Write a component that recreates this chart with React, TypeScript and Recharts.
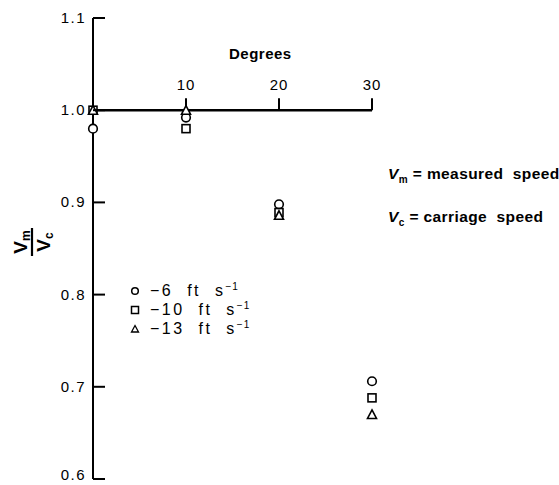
import { ScatterChart, Scatter, XAxis, YAxis, ReferenceLine } from "recharts";

// angle in degrees
const ANGLES = [0, 10, 20, 30];

// Vm / Vc, one list per carriage speed
const RATIO_6 = [0.98, 0.992, 0.898, 0.706];
const RATIO_10 = [1.0, 0.98, 0.889, 0.688];
const RATIO_13 = [1.0, 1.0, 0.886, 0.67];

const SPEEDS = ["6", "10", "13"];
const SHAPES = ["circle", "square", "triangle"];

const Y_TICKS = [0.6, 0.7, 0.8, 0.9, 1.0, 1.1];
const X_TICKS = [10, 20, 30];

const FONT = "'Liberation Sans', Arial, sans-serif";

const toPoints = (vals: number[]) => ANGLES.map((x, i) => ({ x, y: vals[i] }));

function Marker({ cx, cy, kind }: any) {
  if (cx == null || cy == null) return null;
  const common = { fill: "#fff", stroke: "#000", strokeWidth: 1.6 };
  if (kind === "circle") return <circle cx={cx} cy={cy} r={4.3} {...common} />;
  if (kind === "square")
    return <rect x={cx - 4} y={cy - 4} width={8} height={8} {...common} />;
  return (
    <path
      d={`M${cx},${cy - 4.5} L${cx + 4.5},${cy + 4} L${cx - 4.5},${cy + 4} Z`}
      {...common}
    />
  );
}

function XTick({ cx, cy, payload }: any) {
  return (
    <g>
      <line x1={cx} x2={cx} y1={cy} y2={cy - 12} stroke="#000" strokeWidth={2} />
      <text
        x={cx}
        y={cy - 20}
        textAnchor="middle"
        fontFamily={FONT}
        fontSize={15}
        letterSpacing={1}
      >
        {payload.x}
      </text>
    </g>
  );
}

function YTick({ x, y, payload }: any) {
  // lowest label sits on the page edge, lift it a little so it stays whole
  const dy = payload.value === Y_TICKS[0] ? 1 : 5;
  return (
    <g>
      <line x1={x} x2={x + 12} y1={y} y2={y} stroke="#000" strokeWidth={2} />
      <text
        x={x - 7}
        y={y}
        dy={dy}
        textAnchor="end"
        fontFamily={FONT}
        fontSize={15}
        letterSpacing={1.5}
      >
        {Number(payload.value).toFixed(1)}
      </text>
    </g>
  );
}

function YLabel() {
  const cx = 32;
  const cy = 242;
  return (
    <g transform={`rotate(-90, ${cx}, ${cy})`} fontFamily={FONT} fontWeight="bold">
      <text x={cx} y={cy - 5} textAnchor="middle" fontSize={19}>
        V<tspan fontSize={12} dy={3}>m</tspan>
      </text>
      <line x1={cx - 14} x2={cx + 14} y1={cy} y2={cy} stroke="#000" strokeWidth={2.2} />
      <text x={cx} y={cy + 18} textAnchor="middle" fontSize={19}>
        V<tspan fontSize={12} dy={3}>c</tspan>
      </text>
    </g>
  );
}

function LegendBox() {
  return (
    <div style={{ fontFamily: FONT, fontSize: 16 }}>
      {SPEEDS.map((s, i) => (
        <div
          key={s}
          style={{ display: "flex", alignItems: "center", whiteSpace: "pre", height: 19 }}
        >
          <svg width={12} height={12} style={{ marginRight: 9 }}>
            {SHAPES[i] === "circle" && (
              <circle cx={6} cy={6} r={3.3} fill="#fff" stroke="#000" strokeWidth={1.5} />
            )}
            {SHAPES[i] === "square" && (
              <rect x={2.5} y={2.5} width={7} height={7} fill="#fff" stroke="#000" strokeWidth={1.5} />
            )}
            {SHAPES[i] === "triangle" && (
              <path d="M6,2.5 L9.5,9 L2.5,9 Z" fill="#fff" stroke="#000" strokeWidth={1.3} />
            )}
          </svg>
          <span style={{ letterSpacing: 2.5, lineHeight: "19px" }}>
            {"−" + s + "  ft  s"}
            <span style={{ fontSize: 10, letterSpacing: 1, verticalAlign: "6px", lineHeight: 0 }}>
              −1
            </span>
          </span>
        </div>
      ))}
    </div>
  );
}

export default function App() {
  const series = [RATIO_6, RATIO_10, RATIO_13];
  return (
    <div
      style={{
        position: "absolute",
        left: 0,
        top: 0,
        width: 559,
        height: 485,
        background: "#fff",
        overflow: "hidden",
      }}
    >
      <ScatterChart
        width={559}
        height={485}
        margin={{ top: 18, right: 187, bottom: 6, left: 0 }}
      >
        <XAxis type="number" dataKey="x" domain={[0, 30]} hide height={0} />
        <YAxis
          type="number"
          dataKey="y"
          domain={[0.6, 1.1]}
          ticks={Y_TICKS}
          width={93}
          axisLine={{ stroke: "#000", strokeWidth: 2 }}
          tickLine={false}
          tickSize={0}
          tickMargin={0}
          tick={<YTick />}
          interval={0}
          label={<YLabel />}
        />
        <ReferenceLine
          segment={[
            { x: 0, y: 1.0 },
            { x: 30, y: 1.0 },
          ]}
          stroke="#000"
          strokeWidth={2.5}
        />
        <Scatter
          data={X_TICKS.map((x) => ({ x, y: 1.0 }))}
          shape={<XTick />}
          legendType="none"
          isAnimationActive={false}
        />
        {series.map((vals, i) => (
          <Scatter
            key={SPEEDS[i]}
            name={SPEEDS[i]}
            data={toPoints(vals)}
            shape={(p: any) => <Marker {...p} kind={SHAPES[i]} />}
            isAnimationActive={false}
          />
        ))}
      </ScatterChart>
      <div style={{ position: "absolute", left: 129, top: 281, width: 160 }}>
        <LegendBox />
      </div>
      <div
        style={{
          position: "absolute",
          left: 229,
          top: 45,
          fontFamily: FONT,
          fontWeight: "bold",
          fontSize: 15,
          letterSpacing: 0.5,
        }}
      >
        Degrees
      </div>
      <div
        style={{
          position: "absolute",
          left: 388,
          top: 155,
          fontFamily: FONT,
          fontWeight: "bold",
          fontSize: 15.5,
          letterSpacing: 0.4,
          whiteSpace: "pre",
          lineHeight: "37px",
        }}
      >
        <div>
          <i>V</i>
          <sub style={{ fontSize: 10 }}>m</sub>
          {" = measured  speed"}
        </div>
        <div>
          <i>V</i>
          <sub style={{ fontSize: 10 }}>c</sub>
          {" = carriage  speed"}
        </div>
      </div>
    </div>
  );
}
